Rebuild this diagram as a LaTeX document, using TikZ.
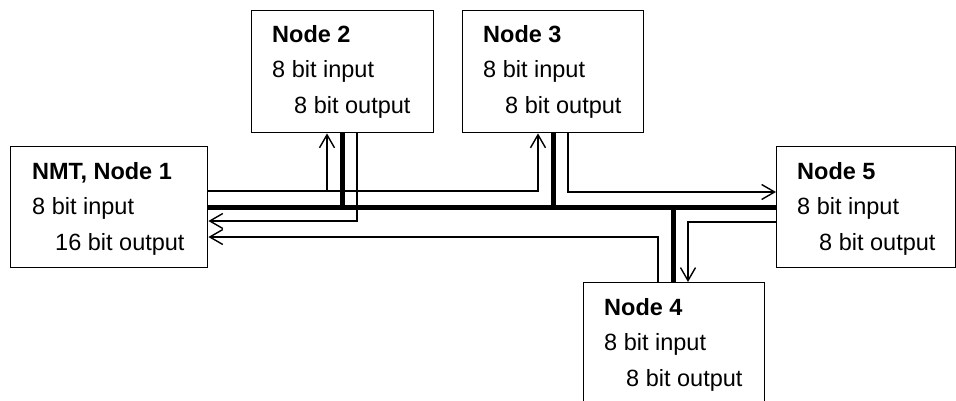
\documentclass[tikz,border=0pt]{standalone}
\usepackage{fontspec}
\setmainfont{Liberation Sans}
\usetikzlibrary{arrows.meta}
\begin{document}
\begin{tikzpicture}[x=1pt,y=-1pt,
  box/.style={draw,line width=1.4pt,rectangle,inner sep=0pt,anchor=north west},
  lbl/.style={anchor=base west,inner sep=0pt,font=\fontsize{23.5}{28}\selectfont},
  ttl/.style={lbl,font=\fontsize{23.5}{28}\selectfont\bfseries},
  thin/.style={line width=1.4pt},
  bus/.style={line width=5pt},
  arr/.style={thin,-{Straight Barb[length=13pt,width=15pt,line width=1.4pt]}}]
\useasboundingbox (0,0) rectangle (956,401);
% boxes
\node[box,minimum width=197pt,minimum height=121pt] (n1) at (10,146) {};
\node[box,minimum width=182pt,minimum height=122pt] (n2) at (251,10) {};
\node[box,minimum width=181pt,minimum height=122pt] (n3) at (462,10) {};
\node[box,minimum width=179pt,minimum height=121pt] (n5) at (776,146) {};
\node[box,minimum width=181pt,minimum height=140pt] (n4) at (583,282) {};
% texts
\node[ttl] (t1a) at (32,179) {NMT, Node 1};
\node[lbl] (t1b) at (32,214) {8 bit input};
\node[lbl] (t1c) at (55,250) {16 bit output};
\node[ttl] (t2a) at (272,43) {Node 2};
\node[lbl] (t2b) at (272,78) {8 bit input};
\node[lbl] (t2c) at (294,114) {8 bit output};
\node[ttl] (t3a) at (483,43) {Node 3};
\node[lbl] (t3b) at (483,78) {8 bit input};
\node[lbl] (t3c) at (505,114) {8 bit output};
\node[ttl] (t5a) at (797,179) {Node 5};
\node[lbl] (t5b) at (797,214) {8 bit input};
\node[lbl] (t5c) at (819,250) {8 bit output};
\node[ttl] (t4a) at (604,315) {Node 4};
\node[lbl] (t4b) at (604,350) {8 bit input};
\node[lbl] (t4c) at (626,386) {8 bit output};
% bus
\draw[bus] (n1.east |- 0,207) -- (n5.west |- 0,207);
\draw[bus] (n2.south -| 342,0) -- (342,207);
\draw[bus] (n3.south -| 553,0) -- (553,207);
\draw[bus] (673,207) -- (n4.north -| 673,0);
% node 1 output
\draw[arr] (n1.east |- 0,191) -| (n3.south -| 538,0);
\draw[arr] (327,191) -- (n2.south -| 327,0);
% node 2 output
\draw[arr] (n2.south -| 357,0) |- (n1.east |- 0,221);
% node 3 output
\draw[arr] (n3.south -| 568,0) |- (n5.west |- 0,192);
% node 5 output
\draw[arr] (n5.west |- 0,222) -| (n4.north -| 688,0);
% node 4 output
\draw[arr] (n4.north -| 658,0) |- (n1.east |- 0,237);
\end{tikzpicture}
\end{document}
